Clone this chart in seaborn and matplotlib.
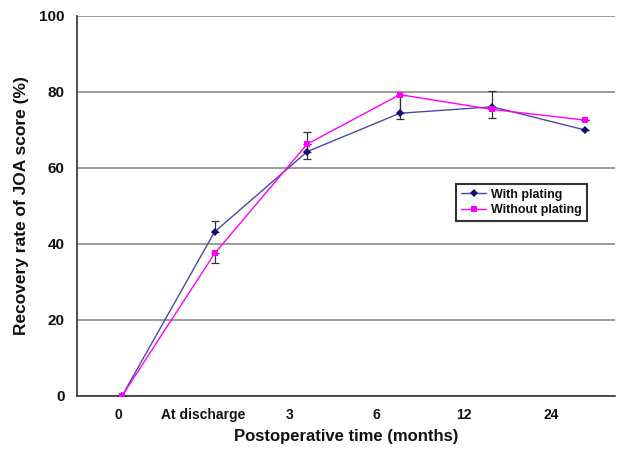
import numpy as np
import pandas as pd
import matplotlib
matplotlib.use("Agg")
import matplotlib.pyplot as plt
import seaborn as sns

categories = ["0", "At discharge", "3", "6", "12", "24"]
with_plating = [0, 43.2, 64.3, 74.4, 76.1, 70.0]
with_plating_err_up = [0, 2.9, 5.3, 4.9, 4.2, 0]
without_plating = [0, 37.5, 66.3, 79.3, 75.4, 72.6]
without_plating_err_down = [0, 2.6, 3.9, 6.5, 2.3, 0]
series_names = ["With plating", "Without plating"]

sns.set_theme(style="white")
plt.rcParams['font.family'] = ['Liberation Sans', 'DejaVu Sans']
plt.rcParams['text.color'] = '#111111'
plt.rcParams['axes.labelcolor'] = '#111111'
plt.rcParams['xtick.color'] = '#111111'
plt.rcParams['ytick.color'] = '#111111'

x = np.arange(len(categories))
df = pd.DataFrame({
    "x": np.concatenate([x, x]),
    "y": with_plating + without_plating,
    "series": [series_names[0]] * len(x) + [series_names[1]] * len(x),
})

fig = plt.figure(figsize=(6.25, 4.54), dpi=100)
ax = fig.add_axes([0.1232, 0.1278, 0.8608, 0.837])

blue_line = "#4a4aa0"
blue_mk = "#10106e"
mag = "#ff00ff"

# error bars
ax.errorbar(x, with_plating, yerr=[np.zeros(len(x)), with_plating_err_up],
            fmt="none", ecolor="#333333", elinewidth=0.9, capsize=3, capthick=0.9, zorder=2)
ax.errorbar(x, without_plating, yerr=[without_plating_err_down, np.zeros(len(x))],
            fmt="none", ecolor="#333333", elinewidth=0.9, capsize=3, capthick=0.9, zorder=2)

sns.lineplot(data=df, x="x", y="y", hue="series", style="series",
             palette={series_names[0]: blue_line, series_names[1]: mag},
             markers={series_names[0]: "D", series_names[1]: "s"},
             dashes=False, linewidth=1.0, markersize=3.8, ax=ax, zorder=3,
             markeredgewidth=0)
lines = ax.get_lines()
for ln in lines:
    if ln.get_color() == blue_line:
        ln.set_markerfacecolor(blue_mk)
        ln.set_markeredgecolor(blue_mk)

ax.set_xlim(-0.486, 5.324)
ax.set_ylim(0, 100)
ax.set_yticks([0, 20, 40, 60, 80, 100])
ax.yaxis.grid(True, color="#7f7f7f", linewidth=1.1)
ax.set_axisbelow(True)

label_pos = [-0.04, 0.878, 1.814, 2.75, 3.686, 4.64]
ax.set_xticks(label_pos)
ax.set_xticklabels(categories, fontsize=10, fontweight="bold")
ax.tick_params(axis="x", length=0, pad=9)
ax.set_xticks([0.432, 1.364, 2.30, 3.229, 4.154], minor=True)
ax.tick_params(axis="x", which="minor", direction="in", length=3, color="#333333", width=1)
ax.tick_params(axis="y", direction="out", length=3, color="#333333", labelsize=11, pad=6)
for t in ax.get_yticklabels():
    t.set_fontweight("bold")

for s in ["top", "right"]:
    ax.spines[s].set_visible(False)
for s in ["left", "bottom"]:
    ax.spines[s].set_color("#333333")
    ax.spines[s].set_linewidth(1.2)

ax.set_xlabel("Postoperative time (months)", fontsize=12, fontweight="bold", labelpad=5)
ax.set_ylabel("Recovery rate of JOA score (%)", fontsize=12.5, fontweight="bold", labelpad=7)

handles, labels = ax.get_legend_handles_labels()
leg = ax.legend(handles, labels, loc="upper left", bbox_to_anchor=(0.693, 0.575),
                frameon=True, fancybox=False, shadow=False, edgecolor="black",
                prop={"weight": "bold", "size": 9}, handlelength=2.0,
                borderpad=0.4, labelspacing=0.3, handletextpad=0.4)
leg.get_frame().set_linewidth(1.5)

fig.savefig("out.png", dpi=100)
